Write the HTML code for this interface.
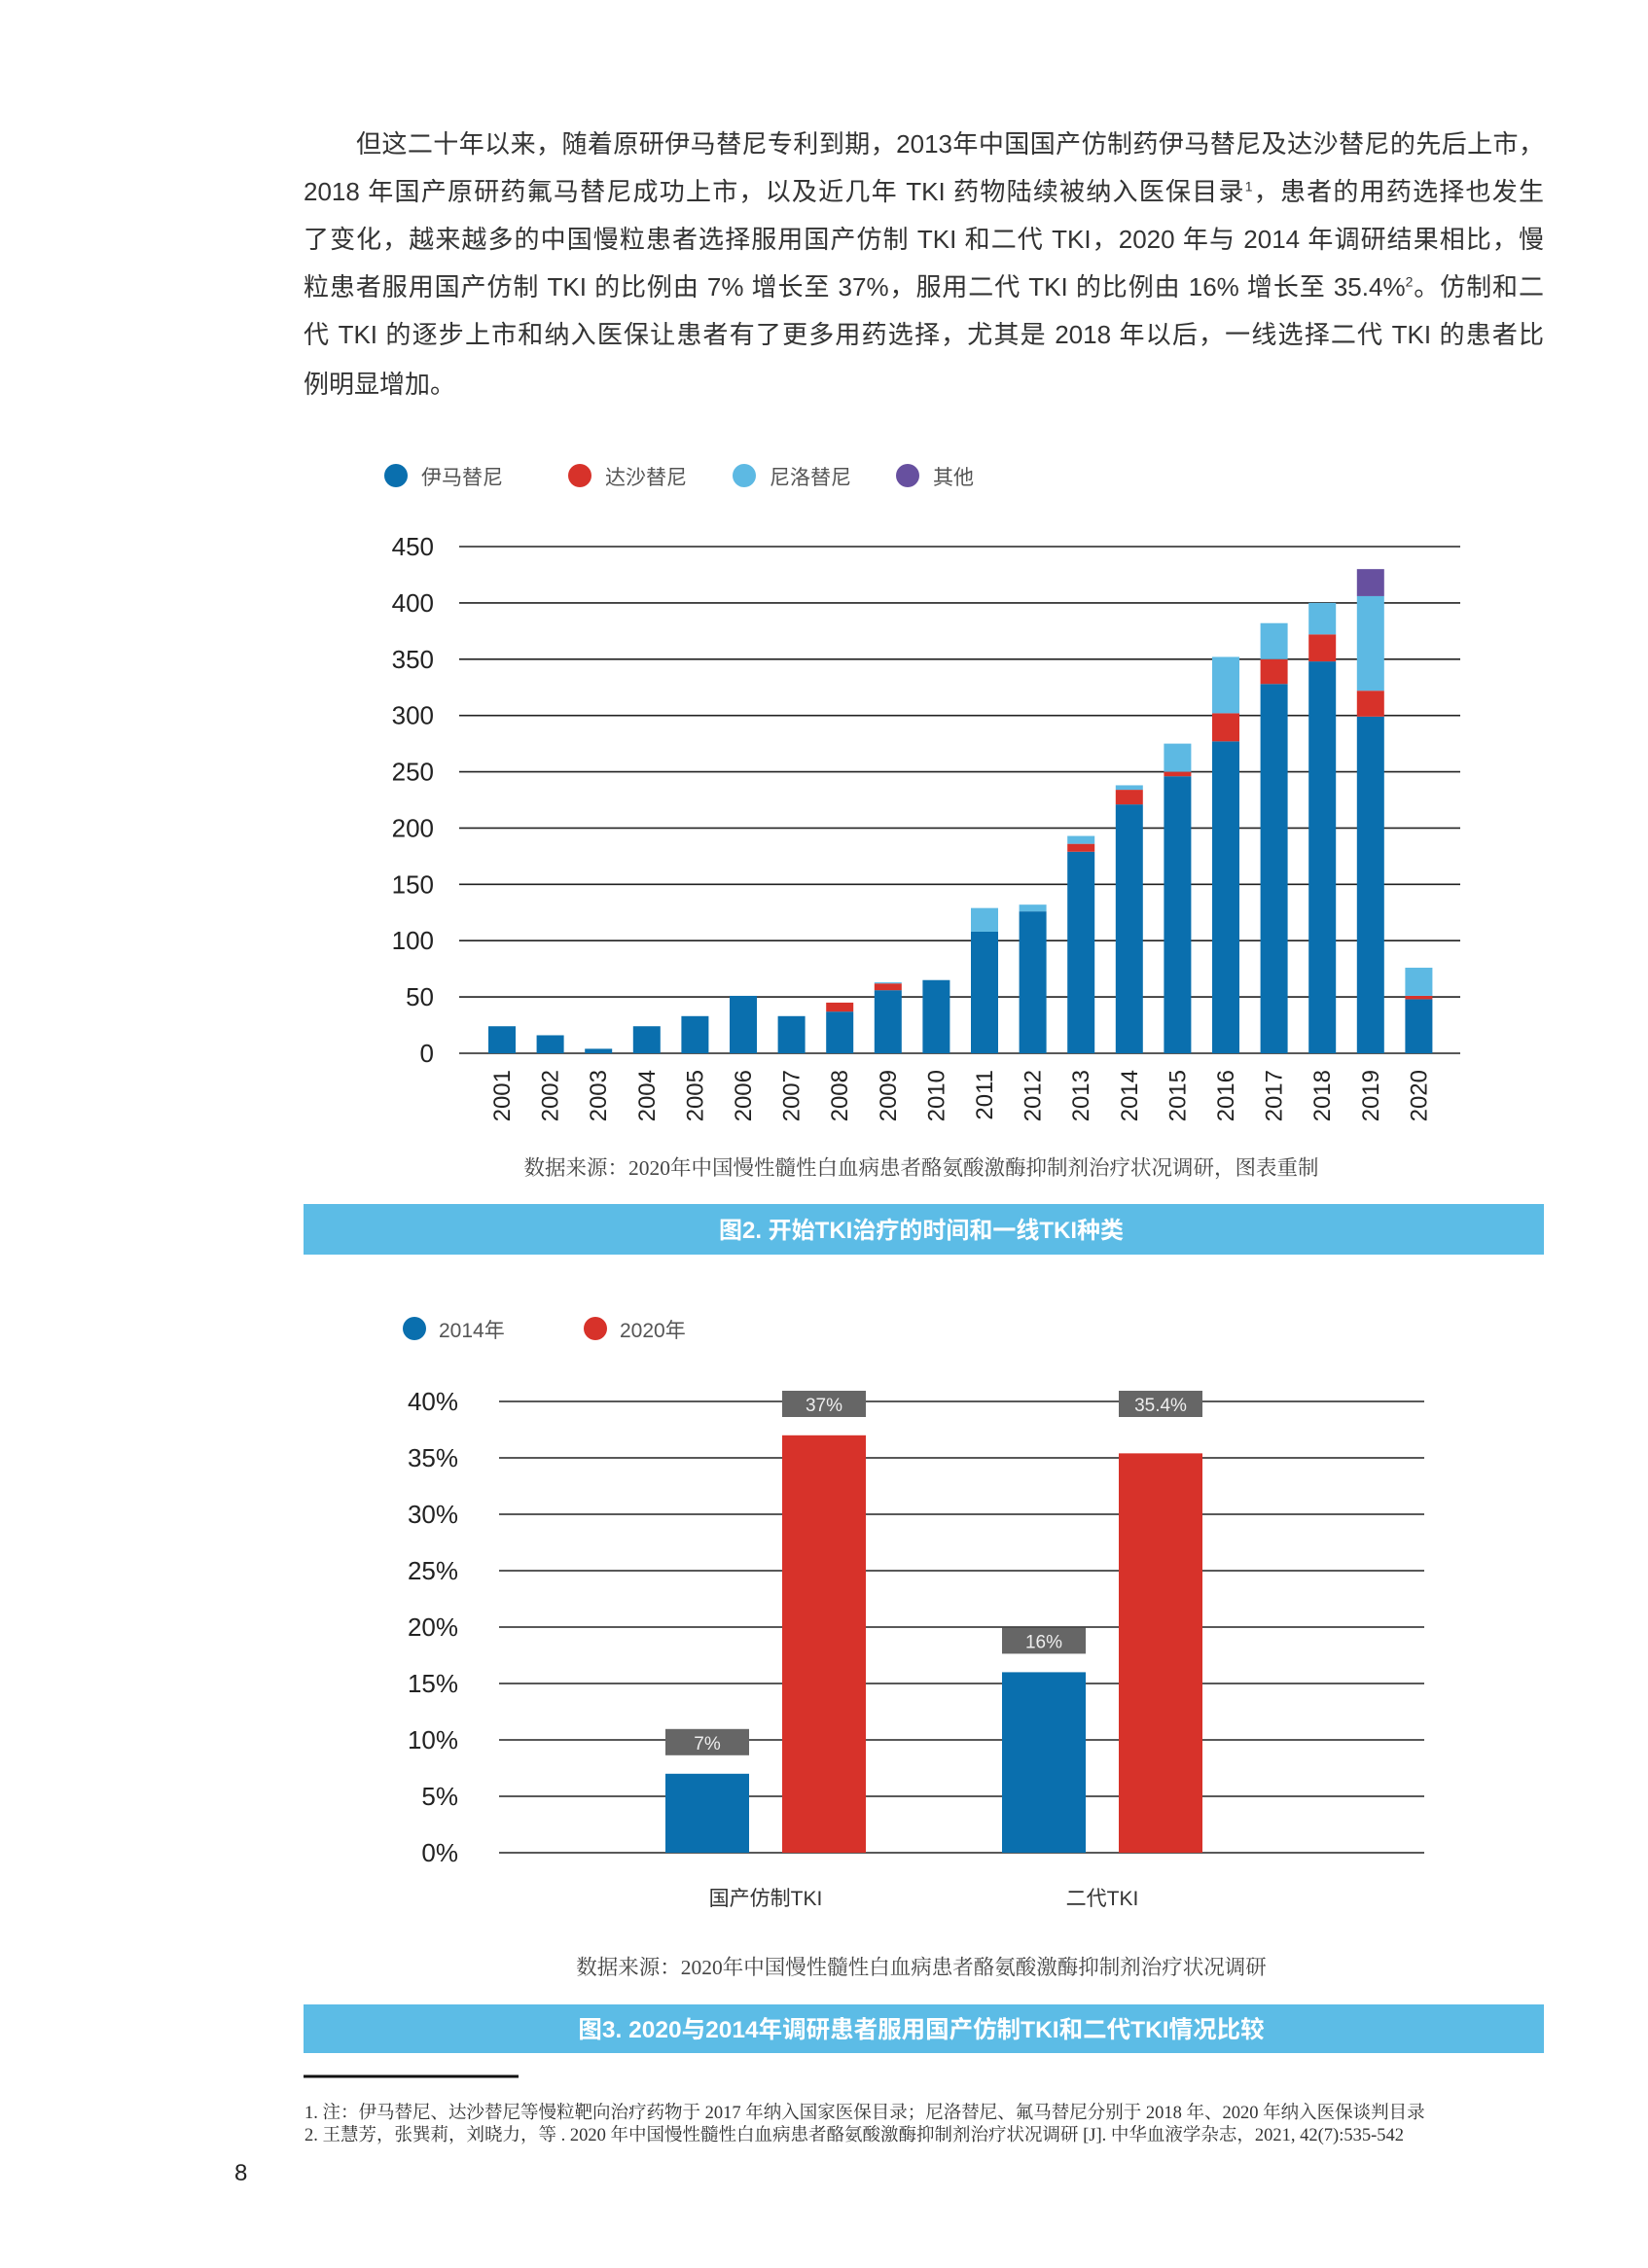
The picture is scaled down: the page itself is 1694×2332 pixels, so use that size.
<!DOCTYPE html>
<html><head><meta charset="utf-8">
<style>
body{margin:0;width:1694px;height:2332px;background:#fff;position:relative;overflow:hidden;font-family:"Liberation Sans","Noto Sans CJK SC",sans-serif;}
.para{position:absolute;left:312px;width:1275px;font-size:26px;color:#333;}
.line{position:absolute;left:0;width:1275px;white-space:nowrap;text-align:justify;text-align-last:justify;height:32px;}
svg{position:absolute;left:0;top:0;}
</style></head>
<body>
<div class="para">
<div class="line" style="top:128px;left:54px;width:1221px">但这二十年以来，随着原研伊马替尼专利到期，2013年中国国产仿制药伊马替尼及达沙替尼的先后上市，</div>
<div class="line" style="top:177px">2018 年国产原研药氟马替尼成功上市，以及近几年 TKI 药物陆续被纳入医保目录<sup style="font-size:14px">1</sup>，患者的用药选择也发生</div>
<div class="line" style="top:226px">了变化，越来越多的中国慢粒患者选择服用国产仿制 TKI 和二代 TKI，2020 年与 2014 年调研结果相比，慢</div>
<div class="line" style="top:275px">粒患者服用国产仿制 TKI 的比例由 7% 增长至 37%，服用二代 TKI 的比例由 16% 增长至 35.4%<sup style="font-size:14px">2</sup>。仿制和二</div>
<div class="line" style="top:324px">代 TKI 的逐步上市和纳入医保让患者有了更多用药选择，尤其是 2018 年以后，一线选择二代 TKI 的患者比</div>
<div class="line" style="top:375px;text-align-last:left">例明显增加。</div>
</div>
<svg id="s" width="1694" height="2332"></svg>
<script>
const years=["2001","2002","2003","2004","2005","2006","2007","2008","2009","2010","2011","2012","2013","2014","2015","2016","2017","2018","2019","2020"];
const imatinib=[24,16,4,24,33,51,33,37,56,65,108,126,179,221,246,277,328,348,299,48];
const dasatinib=[0,0,0,0,0,0,0,8,6,0,0,0,7,13,4,25,22,24,23,3];
const nilotinib=[0,0,0,0,0,0,0,0,1,0,21,6,7,4,25,50,32,28,84,25];
const others=[0,0,0,0,0,0,0,0,0,0,0,0,0,0,0,0,0,0,24,0];
const yTicks1=[0,50,100,150,200,250,300,350,400,450];
const cats2=["国产仿制TKI","二代TKI"];
const v2014=[7,16];
const v2020=[37,35.4];
const labels2014=["7%","16%"];
const labels2020=["37%","35.4%"];
const yTicks2=[0,5,10,15,20,25,30,35,40];

const S=document.getElementById('s');const NS="http://www.w3.org/2000/svg";
function mk(t,a,txt){const e=document.createElementNS(NS,t);for(const k in a)e.setAttribute(k,a[k]);if(txt!==undefined)e.textContent=txt;S.appendChild(e);return e;}
const C={b:"#0a6fae",r:"#d7322a",l:"#5db9e3",p:"#67509f"};
const leg1=[["伊马替尼",C.b,407],["达沙替尼",C.r,596],["尼洛替尼",C.l,765],["其他",C.p,933]];
leg1.forEach(d=>{let c=mk('circle',{cx:d[2],cy:489,r:12,fill:d[1]});
let t=mk('text',{x:d[2]+26,y:498,'font-size':21,fill:'#555'},d[0]);});
const y1=v=>1083-v*(521/450);const x1=i=>516+i*49.6;
yTicks1.forEach(v=>{let l=mk('line',{x1:472,x2:1501,y1:y1(v),y2:y1(v),stroke:'#222','stroke-width':1.6});
let t=mk('text',{x:446,y:y1(v)+9,'font-size':26,fill:'#222','text-anchor':'end'},v);});
years.forEach((yr,i)=>{let base=0;[[imatinib,C.b],[dasatinib,C.r],[nilotinib,C.l],[others,C.p]].forEach(s=>{const v=s[0][i];if(v>0){let r=mk('rect',{x:x1(i)-14,y:y1(base+v),width:28,height:y1(base)-y1(base+v),fill:s[1]});}base+=v;});
let t=mk('text',{x:0,y:0,'font-size':24,fill:'#222','text-anchor':'end',transform:`translate(${x1(i)+8},1100) rotate(-90)`},yr);});
let s1=mk('text',{x:947,y:1208,'font-size':21.5,fill:'#444','text-anchor':'middle','font-family':'"Liberation Serif","Noto Serif CJK SC",serif'},"数据来源：2020年中国慢性髓性白血病患者酪氨酸激酶抑制剂治疗状况调研，图表重制");
let b1=mk('rect',{x:312,y:1238,width:1275,height:52,fill:'#5cbce6'});
let bt1=mk('text',{x:947,y:1273,'font-size':24,'font-weight':'bold',fill:'#fff','text-anchor':'middle'},"图2. 开始TKI治疗的时间和一线TKI种类");
[["2014年",C.b,426],["2020年",C.r,612]].forEach(d=>{let c=mk('circle',{cx:d[2],cy:1366,r:12,fill:d[1]});
let t=mk('text',{x:d[2]+25,y:1375,'font-size':21,fill:'#555'},d[0]);});
const y2=v=>1905-v*(464/40);const gc=[787,1133];
yTicks2.forEach(v=>{let l=mk('line',{x1:513,x2:1464,y1:y2(v),y2:y2(v),stroke:'#222','stroke-width':1.6});
let t=mk('text',{x:471,y:y2(v)+9,'font-size':26,fill:'#222','text-anchor':'end'},v+'%');});
cats2.forEach((c,i)=>{[[v2014,labels2014,C.b,-60],[v2020,labels2020,C.r,60]].forEach(s=>{const cx=gc[i]+s[3],v=s[0][i];
let r=mk('rect',{x:cx-43,y:y2(v),width:86,height:y2(0)-y2(v),fill:s[2]});
const by=(y2(v)-46<y2(40)+20)?y2(40)-11:y2(v)-46;
let bx=mk('rect',{x:cx-43,y:by,width:86,height:27,fill:'#666'});
let t=mk('text',{x:cx,y:by+21,'font-size':19,fill:'#eee','text-anchor':'middle'},s[1][i]);});
let t=mk('text',{x:gc[i],y:1959,'font-size':21,fill:'#333','text-anchor':'middle'},c);});
let s2=mk('text',{x:947,y:2030,'font-size':21.5,fill:'#444','text-anchor':'middle','font-family':'"Liberation Serif","Noto Serif CJK SC",serif'},"数据来源：2020年中国慢性髓性白血病患者酪氨酸激酶抑制剂治疗状况调研");
let b2=mk('rect',{x:312,y:2061,width:1275,height:50,fill:'#5cbce6'});
let bt2=mk('text',{x:947,y:2095,'font-size':24.5,'font-weight':'bold',fill:'#fff','text-anchor':'middle'},"图3. 2020与2014年调研患者服用国产仿制TKI和二代TKI情况比较");
let fl=mk('line',{x1:312,x2:533,y1:2135,y2:2135,stroke:'#111','stroke-width':3});
const fnf='"Liberation Serif","Noto Serif CJK SC",serif';
let f1=mk('text',{x:313,y:2178,'font-size':18.5,fill:'#333','font-family':fnf},"1. 注：伊马替尼、达沙替尼等慢粒靶向治疗药物于 2017 年纳入国家医保目录；尼洛替尼、氟马替尼分别于 2018 年、2020 年纳入医保谈判目录");
let f2=mk('text',{x:313,y:2201,'font-size':18.5,fill:'#333','font-family':fnf},"2. 王慧芳，张巽莉，刘晓力，等 . 2020 年中国慢性髓性白血病患者酪氨酸激酶抑制剂治疗状况调研 [J]. 中华血液学杂志，2021, 42(7):535-542");
let pn=mk('text',{x:241,y:2242,'font-size':24,fill:'#222'},"8");
</script>
</body></html>
